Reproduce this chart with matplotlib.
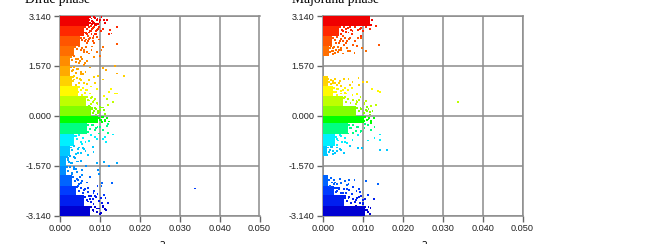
import matplotlib
matplotlib.use('Agg')
import matplotlib.pyplot as plt
import numpy as np

# band edges of phase, top to bottom
band_edges = [3.14, 2.83, 2.51, 2.20, 1.88, 1.57, 1.26, 0.94, 0.63, 0.31, 0.0,
              -0.22, -0.57, -0.94, -1.26, -1.57, -1.88, -2.20, -2.51, -2.83, -3.14]
band_colors = ['#f00000', '#ff2800', '#ff5500', '#ff6e00', '#ff8c00', '#ffaa00', '#ffd200',
               '#fffa00', '#beff00', '#82ff00', '#00ff00', '#00ff82', '#00f0ff', '#00c8ff',
               '#00aaff', '#008cff', '#0064ff', '#003cff', '#001ef0', '#0000d2']

# width of the solid part of each band
dirac_width = [0.0072, 0.0060, 0.0050, 0.0035, 0.0025, 0.0025, 0.0030, 0.0045, 0.0065, 0.0078,
               0.0095, 0.0068, 0.0035, 0.0025, 0.0015, 0.0015, 0.0030, 0.0040, 0.0060, 0.0075]
major_width = [0.0118, 0.0040, 0.0022, 0.0015, 0.0, 0.0, 0.0012, 0.0025, 0.0050, 0.0082,
               0.0102, 0.0062, 0.0030, 0.0010, 0.0, 0.0, 0.0012, 0.0028, 0.0052, 0.0105]

dirac_x = [.0142, .0142, .0129, .0123, .0125, .0118, .0108, .0104, .0100, .0138, .0143, .0160, .0107, .0115,
           .0108, .0096, .0085, .0127, .0123, .0138, .0142, .0110, .0117, .0133, .0121, .0338, .0142, .0110,
           .0123, .0131, .0106, .0104, .0096, .0098, .0133, .0121, .0113, .0108, .0115, .0117,
           .0076, .0080, .0085, .0090, .0094, .0099, .0104, .0110, .0113, .0078, .0083, .0088, .0093, .0097, .0103,
           .0108, .0065, .0071, .0077, .0082, .0087, .0093, .0098, .0062, .0068, .0073, .0080, .0086, .0054, .0060,
           .0066, .0072, .0079, .0085, .0092, .0040, .0047, .0053, .0060, .0068, .0075, .0030, .0036, .0043, .0052,
           .0064, .0072, .0088, .0033, .0040, .0050, .0058, .0068, .0078, .0092, .0036, .0045, .0055, .0066, .0080,
           .0050, .0060, .0070, .0078, .0086, .0093, .0100, .0072, .0080, .0088, .0095, .0103, .0110, .0083, .0090,
           .0098, .0105, .0113, .0118, .0100, .0106, .0112, .0120, .0123, .0072, .0080, .0090, .0100, .0108, .0070,
           .0078, .0088, .0098, .0040, .0048, .0056, .0064, .0072, .0082, .0092, .0030, .0036, .0044, .0052, .0060,
           .0070, .0084, .0020, .0028, .0036, .0044, .0054, .0066, .0092, .0022, .0030, .0040, .0050, .0034, .0044,
           .0054, .0068, .0076, .0044, .0052, .0060, .0070, .0084, .0094, .0062, .0070, .0078, .0086, .0094, .0102,
           .0110, .0070, .0076, .0084, .0090, .0098, .0106, .0114, .0120, .0078, .0084, .0092, .0100, .0108, .0116]
dirac_phi = [2.78, 2.25, 2.59, 2.57, 2.70, 3.01, 2.15, 2.07, 1.88, 1.56, 1.33, 1.25, 1.49, 1.44,
             1.14, 1.25, 1.21, .83, .75, .70, .70, .63, .54, .44, .33, -2.29, -1.50, -1.47,
             -1.59, -2.13, -2.13, -2.20, -1.70, -1.84, -.59, -.55, -.68, -.73, -.84, -.31,
             3.10, 2.98, 3.12, 2.90, 3.05, 2.94, 3.10, 3.02, 2.92, 2.82, 2.76, 2.86, 2.70, 2.80, 2.66,
             2.74, 2.60, 2.50, 2.66, 2.44, 2.56, 2.48, 2.40, 2.34, 2.28, 2.42, 2.18, 2.30, 2.12, 2.02,
             2.16, 1.96, 2.08, 1.86, 2.00, 1.78, 1.66, 1.84, 1.60, 1.72, 1.52, 1.40, 1.24, 1.46, 1.30,
             1.38, 1.12, 1.02, 1.08, .96, 1.16, .88, 1.00, .92, .84, .78, .74, .66, .80, .58,
             .56, .46, .50, .38, .48, .40, .28, .30, .20, .24, .14, .26, .18, .10, .04,
             .12, -.04, .06, -.08, -.12, -.20, -.14, -.26, -.18, -.10, -.30, -.40, -.36, -.46, -.50,
             -.62, -.68, -.56, -.64, -1.00, -.88, -1.10, -.80, -.98, -.74, -.90, -1.30, -1.16, -1.42, -1.04,
             -1.24, -1.14, -1.34, -1.50, -1.64, -1.44, -1.70, -1.58, -1.48, -1.46, -1.80, -1.68, -1.92, -1.62, -2.02,
             -1.86, -2.10, -1.94, -2.20, -2.12, -2.34, -2.28, -2.44, -2.22, -2.30, -2.40, -2.52, -2.36, -2.46, -2.58,
             -2.50, -2.70, -2.62, -2.78, -2.56, -2.68, -2.76, -2.60, -2.74, -2.88, -3.00, -2.92, -3.08, -2.86, -2.98]

# the denser speckle next to the solid part, read row by row
dirac_extra = [(.0074, 3.00), (.0079, 3.06), (.0083, 2.96), (.0088, 3.08), (.0092, 3.00), (.0096, 2.88), (.0101, 3.00),
               (.0075, 2.92), (.0081, 2.88), (.0086, 2.92), (.0091, 2.84), (.0062, 2.78), (.0067, 2.72), (.0072, 2.78),
               (.0076, 2.68), (.0081, 2.72), (.0086, 2.78), (.0090, 2.66), (.0095, 2.74), (.0062, 2.62), (.0068, 2.56),
               (.0073, 2.62), (.0079, 2.58), (.0084, 2.52), (.0090, 2.58), (.0052, 2.46), (.0056, 2.38), (.0060, 2.46),
               (.0065, 2.40), (.0070, 2.34), (.0076, 2.44), (.0082, 2.36), (.0038, 2.16), (.0043, 2.10), (.0047, 2.18),
               (.0052, 2.06), (.0056, 2.14), (.0061, 2.08), (.0067, 2.02), (.0027, 1.84), (.0031, 1.76), (.0035, 1.88),
               (.0039, 1.70), (.0044, 1.80), (.0049, 1.72), (.0056, 1.80), (.0062, 1.66), (.0027, 1.52), (.0032, 1.44),
               (.0036, 1.54), (.0041, 1.36), (.0046, 1.46), (.0052, 1.38), (.0058, 1.32), (.0032, 1.22), (.0036, 1.14),
               (.0042, 1.20), (.0047, 1.04), (.0053, 1.12), (.0060, 1.02), (.0047, .90), (.0052, .80), (.0058, .86),
               (.0063, .72), (.0069, .82), (.0076, .70), (.0067, .58), (.0072, .48), (.0077, .56), (.0082, .42),
               (.0088, .52), (.0094, .36), (.0080, .26), (.0085, .16), (.0090, .22), (.0095, .08), (.0101, .18),
               (.0107, .26), (.0097, -.06), (.0102, -.14), (.0107, -.04), (.0112, -.18), (.0070, -.30), (.0076, -.42),
               (.0082, -.28), (.0088, -.44), (.0094, -.34), (.0037, -.64), (.0042, -.72), (.0047, -.62), (.0052, -.82),
               (.0058, -.70), (.0064, -.84), (.0027, -1.00), (.0031, -1.08), (.0036, -.96), (.0041, -1.20), (.0046, -1.04),
               (.0052, -1.16), (.0058, -1.02), (.0017, -1.30), (.0021, -1.40), (.0026, -1.28), (.0031, -1.48), (.0037, -1.34),
               (.0043, -1.44), (.0017, -1.62), (.0021, -1.74), (.0026, -1.60), (.0031, -1.84), (.0036, -1.68), (.0042, -1.78),
               (.0032, -1.94), (.0037, -2.06), (.0042, -1.98), (.0048, -2.14), (.0054, -2.04), (.0042, -2.24), (.0047, -2.36),
               (.0052, -2.26), (.0058, -2.42), (.0064, -2.32), (.0062, -2.56), (.0067, -2.66), (.0072, -2.54), (.0077, -2.72),
               (.0082, -2.62), (.0088, -2.54), (.0077, -2.88), (.0082, -2.96), (.0087, -2.86), (.0092, -3.04), (.0097, -2.92),
               (.0102, -3.06), (.0107, -2.84), (.0112, -2.94)]

major_x = [.0338, .0140, .0132, .0121, .0107, .0096, .0098, .0079, .0063, .0067, .0142, .0138, .0123, .0111,
           .0100, .0089, .0132, .0121, .0108, .0110, .0161, .0142, .0144, .0142, .0129, .0129, .0098, .0138,
           .0108, .0128, .0119, .0113, .0100, .0092, .0079, .0064,
           .0122, .0112, .0105, .0098, .0118, .0108, .0100, .0092, .0085, .0078, .0070, .0064, .0058, .0050, .0044,
           .0096, .0088, .0080, .0072, .0065, .0058, .0050, .0042, .0036, .0030, .0086, .0076, .0060, .0052, .0046,
           .0038, .0032, .0026, .0020, .0050, .0040, .0030, .0024, .0018,
           .0012, .0020, .0030, .0040, .0052, .0064, .0074, .0090, .0018, .0026, .0034, .0044, .0056, .0068, .0028,
           .0036, .0046, .0058, .0072, .0086, .0056, .0064, .0074, .0084, .0094, .0104, .0086, .0094, .0104, .0114,
           .0118, .0110, .0118, .0124, .0128, .0104, .0114, .0120, .0112, .0068, .0076, .0086, .0096, .0106, .0120,
           .0036, .0044, .0054, .0064, .0074, .0088, .0104, .0112, .0020, .0026, .0034, .0042, .0056, .0068, .0088,
           .0010, .0016, .0024, .0036, .0052,
           .0012, .0020, .0030, .0042, .0054, .0066, .0018, .0028, .0036, .0046, .0060, .0076, .0090, .0032, .0040,
           .0050, .0060, .0072, .0084, .0096, .0056, .0064, .0072, .0082, .0090, .0100, .0106, .0082, .0090, .0100,
           .0108, .0112, .0118]
major_phi = [.43, 2.22, 2.82, 2.87, 2.03, 2.45, 2.14, 1.98, 2.03, 2.03, .75, .79, .84, 1.06,
             1.05, 1.19, .35, .32, .45, .27, -1.09, -1.07, -.59, -.77, -.69, -.35, -1.01, -2.16,
             -2.06, -2.61, -2.90, -2.50, -2.66, -2.40, -2.03, -2.14,
             3.02, 2.92, 3.04, 2.86, 2.72, 2.80, 2.66, 2.74, 2.84, 3.12, 2.70, 2.62, 2.72, 2.66, 2.56,
             2.52, 2.44, 2.34, 2.58, 2.42, 2.28, 2.50, 2.36, 2.52, 2.40, 2.20, 2.24, 2.14, 2.22, 2.08,
             2.16, 2.30, 2.04, 2.18, 1.96, 2.06, 1.98, 2.12, 2.02,
             1.16, 1.12, 1.15, 1.04, 1.17, 1.16, 1.06, .98, .92, 1.02, .84, .94, .86, .96, .74,
             .66, .78, .70, .88, .68, .60, .52, .64, .48, .58, .40, .42, .26, .36, .22,
             .12, .14, .04, .16, -.06, -.16, -.10, -.22, -.30, -.40, -.54, -.34, -.48, -.26, -.44,
             -.72, -.64, -.82, -.56, -.76, -.62, -.40, -.78, -.98, -1.10, -.92, -1.04, -.84, -.96, -1.02,
             -1.24, -1.14, -1.20, -1.10, -1.16,
             -2.02, -1.96, -2.10, -1.98, -2.06, -2.02, -2.20, -2.14, -2.26, -2.12, -2.18, -2.24, -2.30, -2.40, -2.32,
             -2.44, -2.30, -2.46, -2.36, -2.54, -2.52, -2.60, -2.48, -2.66, -2.56, -2.74, -2.62, -2.84, -2.92, -2.78,
             -2.98, -3.04, -3.08]

major_extra = [(.0043, 2.78), (.0048, 2.70), (.0053, 2.80), (.0058, 2.64), (.0063, 2.76), (.0068, 2.80), (.0074, 2.66),
               (.0080, 2.78), (.0088, 2.70), (.0095, 2.76), (.0025, 2.46), (.0030, 2.38), (.0035, 2.48), (.0040, 2.30),
               (.0045, 2.42), (.0050, 2.34), (.0055, 2.46), (.0061, 2.34), (.0068, 2.46), (.0018, 2.14), (.0023, 2.04),
               (.0028, 2.16), (.0033, 2.08), (.0038, 2.00), (.0044, 2.12), (.0008, 2.00), (.0013, 1.96), (.0025, 1.94),
               (.0015, 1.06), (.0020, 1.00), (.0025, 1.10), (.0030, 1.02), (.0036, .98), (.0042, 1.08), (.0028, .86),
               (.0033, .76), (.0038, .84), (.0044, .70), (.0050, .80), (.0056, .72), (.0063, .82), (.0053, .56),
               (.0058, .44), (.0063, .54), (.0069, .40), (.0075, .50), (.0082, .38), (.0090, .50), (.0085, .24),
               (.0090, .14), (.0096, .20), (.0102, .08), (.0108, .18), (.0105, -.04), (.0110, -.12), (.0115, -.06),
               (.0120, -.16), (.0065, -.28), (.0070, -.40), (.0076, -.30), (.0082, -.48), (.0088, -.36), (.0094, -.50),
               (.0033, -.66), (.0038, -.78), (.0043, -.62), (.0048, -.84), (.0054, -.70), (.0060, -.86), (.0013, -1.00),
               (.0018, -1.08), (.0023, -.98), (.0030, -1.16), (.0036, -1.00), (.0044, -1.08), (.0015, -2.02), (.0022, -2.10),
               (.0028, -2.02), (.0034, -2.14), (.0031, -2.28), (.0036, -2.38), (.0041, -2.26), (.0046, -2.42), (.0052, -2.32),
               (.0058, -2.44), (.0065, -2.34), (.0055, -2.58), (.0060, -2.68), (.0065, -2.56), (.0070, -2.74), (.0075, -2.62),
               (.0080, -2.72), (.0086, -2.58), (.0092, -2.74), (.0106, -2.88), (.0110, -2.96), (.0114, -2.86)]

xticks = [0.0, 0.01, 0.02, 0.03, 0.04, 0.05]
yticks = [-3.14, -1.57, 0.0, 1.57, 3.14]

W, H = 648, 244


def point_color(phi):
    for i in range(len(band_colors)):
        if phi >= band_edges[i + 1]:
            return band_colors[i]
    return band_colors[-1]


def draw_panel(left_px, widths, xs, ys, extra):
    ax = fig.add_axes([left_px / W, 1 - 215.5 / H, 199.5 / W, 199.5 / H])
    ax.set_xlim(0, 0.05)
    ax.set_ylim(-3.14, 3.14)
    ax.set_xticks(xticks)
    ax.set_xticklabels(['%.3f' % t for t in xticks], fontsize=6.6, color='#222222')
    ax.set_yticks(yticks)
    ax.set_yticklabels(['%.3f' % t for t in yticks], fontsize=6.6, color='#222222')
    ax.tick_params(length=4, width=1.0, color='#666666', pad=2)
    ax.grid(True, color='#8c8c8c', linewidth=1.1)
    ax.set_axisbelow(True)
    for s in ax.spines.values():
        s.set_color('#8c8c8c')
        s.set_linewidth(1.1)
    for i, w in enumerate(widths):
        if w > 0:
            ax.barh(band_edges[i + 1], w, height=band_edges[i] - band_edges[i + 1], align='edge',
                    left=0, color=band_colors[i], linewidth=0, zorder=3, clip_on=True)
    all_x = list(xs) + [p[0] for p in extra]
    all_y = list(ys) + [p[1] for p in extra]
    ax.scatter(all_x, all_y, s=1.9, marker='s', c=[point_color(p) for p in all_y], linewidths=0, zorder=4)
    return ax


plt.rcParams['font.family'] = ['Liberation Sans', 'DejaVu Sans']
fig = plt.figure(figsize=(W / 100, H / 100), dpi=100)

draw_panel(60, dirac_width, dirac_x, dirac_phi, dirac_extra)
draw_panel(323, major_width, major_x, major_phi, major_extra)

# titles and x labels are cut off by the image edge in the original
fig.text(25 / W, 1 - 3 / H, 'Dirac phase', family='Liberation Serif', fontsize=9.8, va='baseline')
fig.text(292 / W, 1 - 3 / H, 'Majorana phase', family='Liberation Serif', fontsize=9.8, va='baseline')
fig.text(150 / W, 1 - 254 / H, 'A$^2$ S', family='Liberation Serif', fontsize=9.5, va='baseline')
fig.text(412 / W, 1 - 254 / H, 'A$^2$ S', family='Liberation Serif', fontsize=9.5, va='baseline')

fig.savefig('out.png', dpi=100)
